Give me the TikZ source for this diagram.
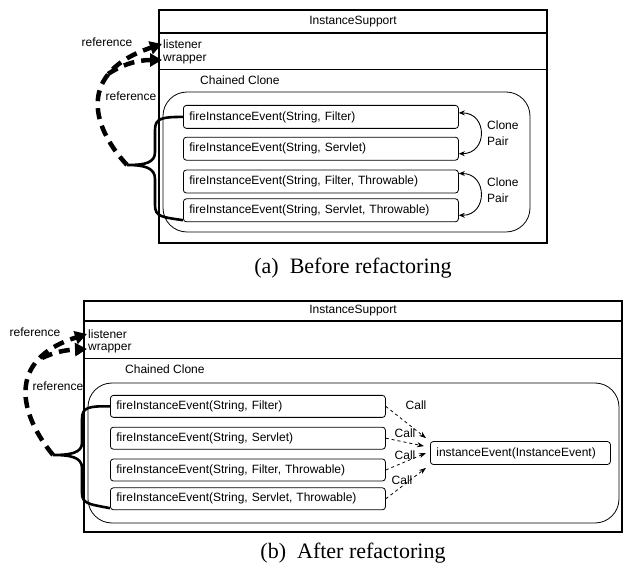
\documentclass[tikz,border=0pt]{standalone}
\usepackage{fontspec}
\setmainfont{Liberation Serif}
\setsansfont{Liberation Sans}
\usetikzlibrary{arrows.meta,positioning}
\tikzset{
    class-frame/.style = {draw, line width=1.2pt},
    clone-frame/.style = {draw, line width=0.8pt, rounded corners=24pt},
    method-box/.style = {draw, line width=0.8pt, rounded corners=3pt, font=\sffamily\fontsize{12}{14}\selectfont, text width=263pt, inner xsep=6pt, inner ysep=0pt, minimum height=23pt, align=left},
    plain-label/.style = {font=\sffamily\fontsize{12}{16}\selectfont, inner sep=1pt},
    clone-arrow/.style = {{Stealth[length=6pt,width=5pt]}-{Stealth[length=6pt,width=5pt]}, line width=0.9pt},
    call-arrow/.style = {-{Stealth[length=7pt,width=5pt]}, dashed, line width=0.8pt},
    brace-line/.style = {line width=2.6pt},
    ref-arrow/.style = {-{Triangle[length=12pt,width=13pt]}, line width=4.5pt, dash pattern=on 11pt off 7pt},
    caption-text/.style = {font=\fontsize{22}{26}\selectfont},
}

\begin{document}
\begin{tikzpicture}[x=1pt,y=-1pt]
\useasboundingbox (0,0) rectangle (625,572);

\draw[class-frame] (159,10) rectangle (547,243);
\draw[class-frame] (159,33) -- (547,33);
\draw[line width=0.9pt] (159,69) -- (547,69);
\node[plain-label] (titleA) at (353,22) {InstanceSupport};
\node[plain-label, anchor=west] (listenerA) at (162,44) {listener};
\node[plain-label, anchor=west] (wrapperA) at (162,60) {wrapper};
\node[plain-label, anchor=west] (chainA) at (199,80) {Chained Clone};
\draw[clone-frame] (163,92) rectangle (530,232);

\node[method-box, anchor=north west] (fA1) at (183,105) {fireInstanceEvent(String, Filter)};
\node[method-box, below=8pt of fA1] (fA2) {fireInstanceEvent(String, Servlet)};
\node[method-box, below=9pt of fA2] (fA3) {fireInstanceEvent(String, Filter, Throwable)};
\node[method-box, below=5pt of fA3] (fA4) {fireInstanceEvent(String, Servlet, Throwable)};

\draw[clone-arrow] ([yshift=4pt]fA1.east) .. controls +(29,0) and +(29,0) .. ([yshift=-5pt]fA2.east);
\draw[clone-arrow] ([yshift=8pt]fA3.east) .. controls +(29,0) and +(29,0) .. ([yshift=-5pt]fA4.east);
\node[plain-label, anchor=west, align=left] (pairA1) at (486,133) {Clone\\Pair};
\node[plain-label, anchor=west, align=left] (pairA2) at (486,190) {Clone\\Pair};

\coordinate (tipA) at (127,165);
\draw[brace-line] (fA1.west) .. controls (162,117) and (155,118) .. (155,130) -- (155,152)
    .. controls (155,163) and (145,165) .. (tipA)
    .. controls (145,165) and (155,168) .. (155,179) -- (155,205)
    .. controls (155,217) and (162,217) .. ([yshift=2pt]fA4.south west);

\coordinate (forkA) at (108,74);
\draw[ref-arrow] (tipA) .. controls (90,125) and (78,72) .. (listenerA.west);
\draw[ref-arrow] (forkA) .. controls (120,66) and (135,60) .. (wrapperA.west);
\node[plain-label] (refA1) at (107,42) {reference};
\node[plain-label] (refA2) at (131,96) {reference};

\node[caption-text] (capA) at (353,268) {(a)\ \ Before refactoring};

\draw[class-frame] (84,301) rectangle (622,532);
\draw[class-frame] (84,321) -- (622,321);
\draw[line width=0.9pt] (84,358) -- (622,358);
\node[plain-label] (titleB) at (353,311) {InstanceSupport};
\node[plain-label, anchor=west] (listenerB) at (87,334) {listener};
\node[plain-label, anchor=west] (wrapperB) at (87,349) {wrapper};
\node[plain-label, anchor=west] (chainB) at (124,369) {Chained Clone};
\draw[clone-frame] (88,383) rectangle (619,523);

\node[method-box, anchor=north west, minimum height=22pt] (fB1) at (110,395) {fireInstanceEvent(String, Filter)};
\node[method-box, minimum height=22pt, below=9pt of fB1] (fB2) {fireInstanceEvent(String, Servlet)};
\node[method-box, minimum height=22pt, below=9pt of fB2] (fB3) {fireInstanceEvent(String, Filter, Throwable)};
\node[method-box, minimum height=22pt, below=6pt of fB3] (fB4) {fireInstanceEvent(String, Servlet, Throwable)};

\node[method-box, text width=168pt, minimum height=23pt, anchor=west] (ievent) at (430,453) {instanceEvent(InstanceEvent)};

\draw[call-arrow] (fB1.east) -- ([xshift=-4pt,yshift=3pt]ievent.north west);
\draw[call-arrow] (fB2.east) -- ([xshift=-6pt,yshift=-5pt]ievent.north west);
\draw[call-arrow] (fB3.east) -- ([xshift=-4pt]ievent.west);
\draw[call-arrow] (fB4.east) -- ([xshift=-4pt,yshift=-3pt]ievent.south west);
\node[plain-label] (callB1) at (416,405) {Call};
\node[plain-label] (callB2) at (405,433) {Call};
\node[plain-label] (callB3) at (405,455) {Call};
\node[plain-label] (callB4) at (402,480) {Call};

\coordinate (tipB) at (53,455);
\draw[brace-line] (fB1.west) .. controls (89,406) and (82,407) .. (82,419) -- (82,443)
    .. controls (82,453) and (70,455) .. (tipB)
    .. controls (70,455) and (82,457) .. (82,468) -- (82,493)
    .. controls (82,504) and (89,504) .. ([yshift=2pt]fB4.south west);

\coordinate (forkB) at (42,358);
\draw[ref-arrow] (tipB) .. controls (20,415) and (5,360) .. (listenerB.west);
\draw[ref-arrow] (forkB) .. controls (55,352) and (65,350) .. (wrapperB.west);
\node[plain-label] (refB1) at (35,332) {reference};
\node[plain-label] (refB2) at (58,386) {reference};

\node[caption-text] (capB) at (353,553) {(b)\ \ After refactoring};
\end{tikzpicture}
\end{document}
